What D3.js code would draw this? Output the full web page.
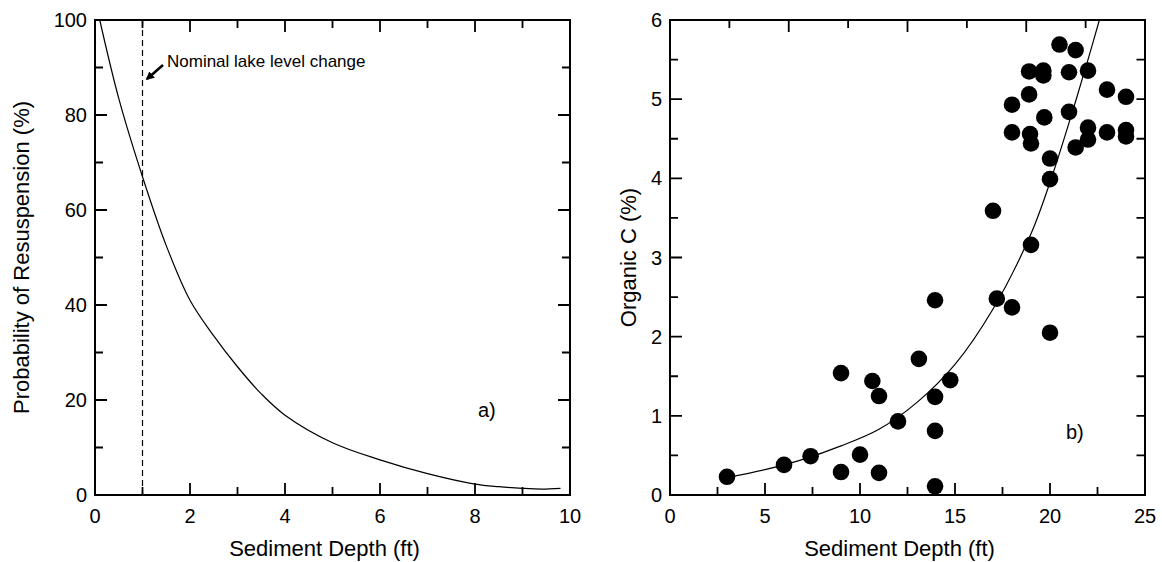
<!DOCTYPE html>
<html>
<head>
<meta charset="utf-8">
<style>
body { margin:0; background:#fff; }
svg text { font-family: "Liberation Sans", Arial, sans-serif; fill:#000; }
</style>
</head>
<body>
<svg id="chart" width="1162" height="562"></svg>
<script src="https://cdn.jsdelivr.net/npm/d3@7"></script>
<script>

// panel a) : resuspension probability curve
var depthA = [0.1, 0.5, 1, 1.5, 2, 2.5, 3, 3.5, 4, 5, 6, 7, 8, 8.5, 9, 9.4, 9.8];
var probA  = [100, 83.5, 67, 52.5, 41, 33.5, 27, 21.3, 16.8, 11, 7.4, 4.5, 2.3, 1.75, 1.4, 1.25, 1.4];
var lakeLevel = 1;

// panel b) : organic carbon samples and fitted curve
var depthB = [3.0, 6.0, 7.4, 9.0, 9.0, 10.0, 10.65, 11.0, 11.0, 12.0, 13.1, 13.95, 13.95, 13.95, 13.95,
              14.75, 17.0, 17.2, 18.0, 18.0, 18.0, 18.9, 18.9, 18.95, 19.0, 19.0, 19.65, 19.65, 19.7,
              20.0, 20.0, 20.0, 20.5, 21.0, 21.0, 21.35, 21.35, 22.0, 22.0, 22.0, 23.0, 23.0, 24.0, 24.0, 24.0];
var orgC   = [0.23, 0.38, 0.49, 1.54, 0.29, 0.51, 1.44, 1.25, 0.28, 0.93, 1.72, 2.46, 1.24, 0.81, 0.11,
              1.45, 3.59, 2.48, 2.37, 4.93, 4.58, 5.35, 5.06, 4.56, 4.44, 3.16, 5.36, 5.30, 4.77,
              4.25, 3.99, 2.05, 5.69, 5.34, 4.84, 5.62, 4.39, 5.36, 4.64, 4.49, 5.12, 4.58, 5.03, 4.61, 4.53];
var fitX = [3, 5, 7, 9, 11, 13, 15, 17, 19, 20, 21, 22, 22.6];
var fitY = [0.22, 0.32, 0.45, 0.62, 0.83, 1.17, 1.65, 2.35, 3.3, 3.95, 4.7, 5.5, 6.0];

var ticksAx = [0, 2, 4, 6, 8, 10];
var ticksAy = [0, 20, 40, 60, 80, 100];
var ticksBx = [0, 5, 10, 15, 20, 25];
var ticksBy = [0, 1, 2, 3, 4, 5, 6];

var svg = d3.select("#chart");
var top_ = 20, bottom = 495;

// inward tick marks as one path per side, positions from the scale
function ticks(g, scale, values, side, pos, len) {
  var horiz = (side == "bottom" || side == "top");
  var dir = (side == "bottom" || side == "right") ? -1 : 1;
  var d = values.map(function(v) {
    var p = scale(v);
    return horiz ? "M" + p + "," + pos + "V" + (pos + dir * len)
                 : "M" + pos + "," + p + "H" + (pos + dir * len);
  }).join("");
  g.append("path").attr("d", d).attr("fill", "none")
    .attr("stroke", "#000").attr("stroke-width", 1.8);
}

function panel(x0, x1, xDom, yDom, opt) {
  var g = svg.append("g");
  var x = d3.scaleLinear().domain(xDom).range([x0, x1]);
  var y = d3.scaleLinear().domain(yDom).range([bottom, top_]);

  g.append("rect").attr("x", x0).attr("y", top_)
    .attr("width", x1 - x0).attr("height", bottom - top_)
    .attr("fill", "none").attr("stroke", "#000").attr("stroke-width", 2);

  ticks(g, x, opt.xMinor, "bottom", bottom, 8);
  ticks(g, x, opt.xTicks, "bottom", bottom, 12);
  ticks(g, y, opt.yMinor, "left", x0, 8);
  ticks(g, y, opt.yTicks, "left", x0, 12);
  ticks(g, x, opt.topMinor, "top", top_, 8);
  ticks(g, x, opt.topMajor, "top", top_, 12);
  ticks(g, y, opt.rightMinor, "right", x1, opt.rightMinorLen);
  ticks(g, y, opt.rightMajor, "right", x1, 12);

  g.append("g").selectAll("text").data(opt.xTicks).enter().append("text")
    .attr("x", function(d) { return x(d); }).attr("y", 523)
    .attr("text-anchor", "middle").style("font-size", "20px")
    .text(function(d) { return d; });
  g.append("g").selectAll("text").data(opt.yTicks).enter().append("text")
    .attr("x", x0 - 8).attr("y", function(d) { return y(d); }).attr("dy", "0.35em")
    .attr("text-anchor", "end").style("font-size", "20px")
    .text(function(d) { return d; });

  g.append("text").attr("x", (x0 + x1) / 2 - 8).attr("y", 556)
    .attr("text-anchor", "middle").style("font-size", "22px").text(opt.xLabel);
  g.append("text").attr("transform", "translate(" + opt.yLabelX + "," + (top_ + bottom) / 2 + ") rotate(-90)")
    .attr("text-anchor", "middle").attr("dy", "0.35em").style("font-size", "22px").text(opt.yLabel);
  return {g: g, x: x, y: y};
}

// ---- panel a
var A = panel(95, 570, [0, 10], [0, 100], {
  xTicks: ticksAx, xMinor: [1, 3, 5, 7, 9],
  yTicks: ticksAy, yMinor: [10, 30, 50, 70, 90],
  topMajor: [2, 4, 6, 8], topMinor: [1, 3, 5, 7, 9],
  rightMajor: [20, 40, 60, 80], rightMinor: [10, 30, 50, 70, 90], rightMinorLen: 8,
  xLabel: "Sediment Depth (ft)", yLabel: "Probability of Resuspension (%)", yLabelX: 21
});

A.g.append("line")
  .attr("x1", A.x(lakeLevel)).attr("x2", A.x(lakeLevel))
  .attr("y1", A.y(100)).attr("y2", A.y(0))
  .attr("stroke", "#000").attr("stroke-width", 1.2).attr("stroke-dasharray", "6,4");

var lineA = d3.line().x(function(d, i) { return A.x(depthA[i]); })
  .y(function(d, i) { return A.y(probA[i]); }).curve(d3.curveCatmullRom.alpha(0.5));
A.g.append("path").datum(depthA).attr("d", lineA)
  .attr("fill", "none").attr("stroke", "#000").attr("stroke-width", 1.2);

// annotation arrow
svg.append("defs").append("marker").attr("id", "head")
  .attr("viewBox", "0 0 10 10").attr("refX", 8).attr("refY", 5)
  .attr("markerWidth", 3.4).attr("markerHeight", 3.4).attr("orient", "auto")
  .append("path").attr("d", "M0,0L10,5L0,10z").attr("fill", "#000");
A.g.append("line").attr("x1", 163).attr("y1", 65).attr("x2", 147).attr("y2", 79)
  .attr("stroke", "#000").attr("stroke-width", 2.5).attr("marker-end", "url(#head)");
A.g.append("text").attr("x", 167).attr("y", 67).style("font-size", "17px")
  .text("Nominal lake level change");
A.g.append("text").attr("x", 478).attr("y", 417).style("font-size", "20px").text("a)");

// ---- panel b
var B = panel(670, 1145, [0, 25], [0, 6], {
  xTicks: ticksBx, xMinor: [2.5, 7.5, 12.5, 17.5, 22.5],
  yTicks: ticksBy, yMinor: [0.5, 1.5, 2.5, 3.5, 4.5, 5.5],
  topMajor: [6.25, 12.5, 18.75], topMinor: [3.125, 9.375, 15.625, 21.875],
  rightMajor: [], rightMinor: d3.range(1, 12).map(function(i) { return i * 0.5; }), rightMinorLen: 8.5,
  xLabel: "Sediment Depth (ft)", yLabel: "Organic C  (%)", yLabelX: 628
});

var lineB = d3.line().x(function(d, i) { return B.x(fitX[i]); })
  .y(function(d, i) { return B.y(fitY[i]); }).curve(d3.curveCatmullRom.alpha(0.5));
B.g.append("path").datum(fitX).attr("d", lineB)
  .attr("fill", "none").attr("stroke", "#000").attr("stroke-width", 1.2);

B.g.selectAll("circle.pt").data(depthB).enter().append("circle")
  .attr("class", "pt")
  .attr("cx", function(d) { return B.x(d); })
  .attr("cy", function(d, i) { return B.y(orgC[i]); })
  .attr("r", 8.3).attr("fill", "#000");

B.g.append("text").attr("x", 1066).attr("y", 439).style("font-size", "20px").text("b)");

</script>
</body>
</html>
